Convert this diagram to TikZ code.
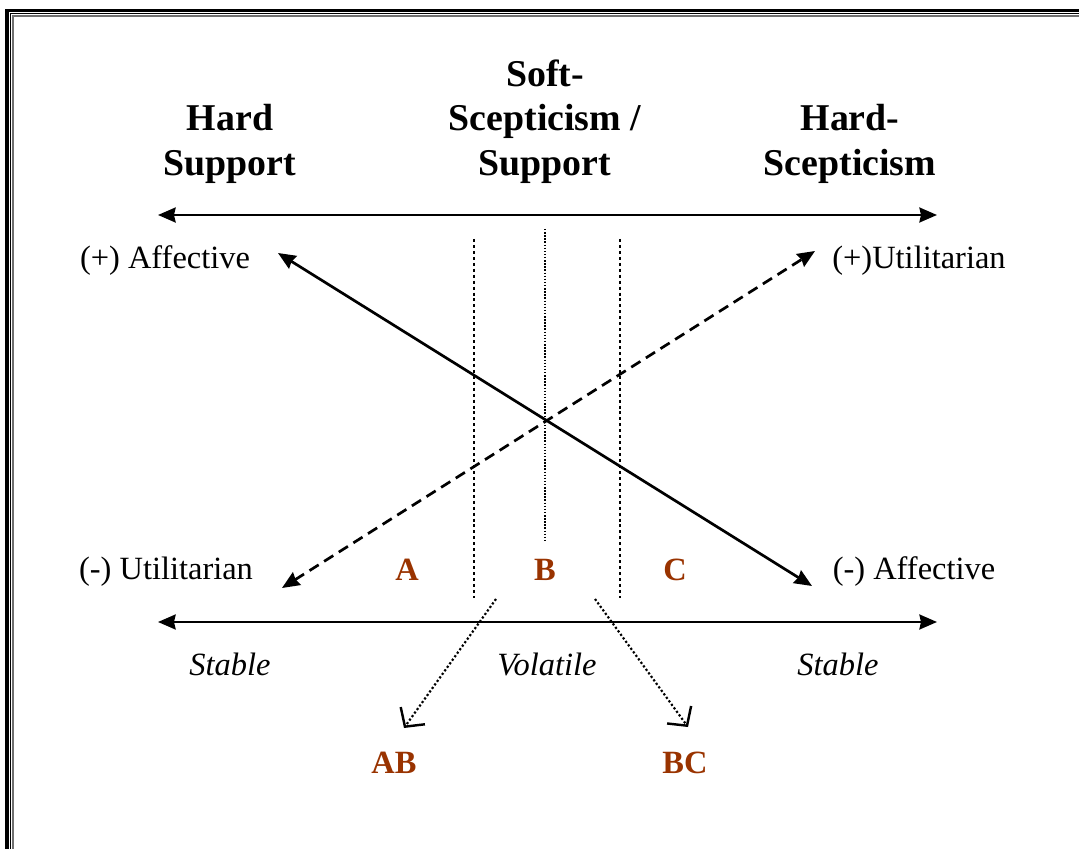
\documentclass[tikz,border=0pt]{standalone}
\usepackage{fontspec}
\setmainfont{Liberation Serif}
\usepackage{tikz}
\usetikzlibrary{arrows.meta,positioning}

\begin{document}
\begin{tikzpicture}[x=0.013cm, y=-0.013cm,
    every node/.style={inner sep=0pt},
    lbl/.style={font=\fontsize{12}{14}\selectfont, anchor=base},
    head/.style={font=\fontsize{14}{16.5}\selectfont\bfseries, align=center, anchor=north},
    zone/.style={font=\fontsize{12}{14}\selectfont\bfseries, text=zonebrown, anchor=base},
    pole/.style={font=\fontsize{12}{14}\selectfont\itshape, anchor=base},
    tip/.style={Stealth[length=6.5pt,width=5.5pt,inset=0.6pt]},
    axis/.style={{Stealth[length=6.5pt,width=5.5pt,inset=0.6pt]}-{Stealth[length=6.5pt,width=5.5pt,inset=0.6pt]}, line width=1pt},
    divide/.style={line width=1.1pt, dash pattern=on 1.1pt off 1.1pt},
    shiftarrow/.style={-{Straight Barb[length=5pt,width=11pt,line width=0.9pt]}, line width=0.8pt, dash pattern=on 0.8pt off 0.8pt}]
    \definecolor{zonebrown}{HTML}{993300}
    \definecolor{framegrey}{HTML}{707070}

    \useasboundingbox (0,0) rectangle (1079,849);

    % =================== frame ===================
    \draw[line width=1.4pt] (7,849) -- (7,10.5) -- (1079,10.5);
    \draw[line width=0.5pt] (10.5,849) -- (10.5,13.8) -- (1079,13.8);
    \draw[framegrey, line width=1.1pt] (13,849) -- (13,16) -- (1079,16);

    % =================== headings ===================
    \node[head] (hardsup) at (230,104) {Hard\\Support};
    \node[head] (softsc) at (545,59) {Soft-\\Scepticism /\\Support};
    \node[head] (hardsc) at (850,104) {Hard-\\Scepticism};

    % =================== axes ===================
    \coordinate (topL) at (158,215);
    \coordinate (topR) at (937,215);
    \coordinate (botL) at (158,622);
    \coordinate (botR) at (937,622);
    \draw[axis] (topL) -- (topR);
    \draw[axis] (botL) -- (botR);

    % =================== attitude labels ===================
    \node[lbl] (affpos) at (165,269) {(+) Affective};
    \node[lbl] (utipos) at (919,269) {(+)Utilitarian};
    \node[lbl] (utineg) at (166,580) {(-) Utilitarian};
    \node[lbl] (affneg) at (914,580) {(-) Affective};

    % crossing arrows
    \coordinate (affposT) at (278,253);
    \coordinate (affnegT) at (812,586);
    \coordinate (utiposT) at (815,251);
    \coordinate (utinegT) at (282,588);
    \draw[axis] (affposT) -- (affnegT);
    \draw[axis, dash pattern=on 4pt off 2.4pt] (utinegT) -- (utiposT);

    % =================== zones ===================
    \coordinate (divLt) at (474,239);
    \coordinate (divLb) at (474,598);
    \coordinate (divMt) at (545,229);
    \coordinate (divMb) at (545,540);
    \coordinate (divRt) at (620,239);
    \coordinate (divRb) at (620,598);
    \draw[divide] (divLt) -- (divLb);
    \draw[line width=0.55pt, dash pattern=on 0.55pt off 0.6pt] (divMt) -- (divMb);
    \draw[divide] (divRt) -- (divRb);

    \node[zone] (zoneA) at (407,581) {A};
    \node[zone] (zoneB) at (545,581) {B};
    \node[zone] (zoneC) at (675,581) {C};

    \node[pole] (stableL) at (230,675) {Stable};
    \node[pole] (volatile) at (547,675) {Volatile};
    \node[pole] (stableR) at (838,675) {Stable};

    % shifts out of the volatile zone
    \node[zone] (zoneAB) at (394,773) {AB};
    \node[zone] (zoneBC) at (685,773) {BC};
    \coordinate (shiftL) at (496,599);
    \coordinate (shiftLT) at (404,728);
    \coordinate (shiftR) at (595,599);
    \coordinate (shiftRT) at (688,727);
    \draw[shiftarrow] (shiftL) -- (shiftLT);
    \draw[shiftarrow] (shiftR) -- (shiftRT);
\end{tikzpicture}
\end{document}
